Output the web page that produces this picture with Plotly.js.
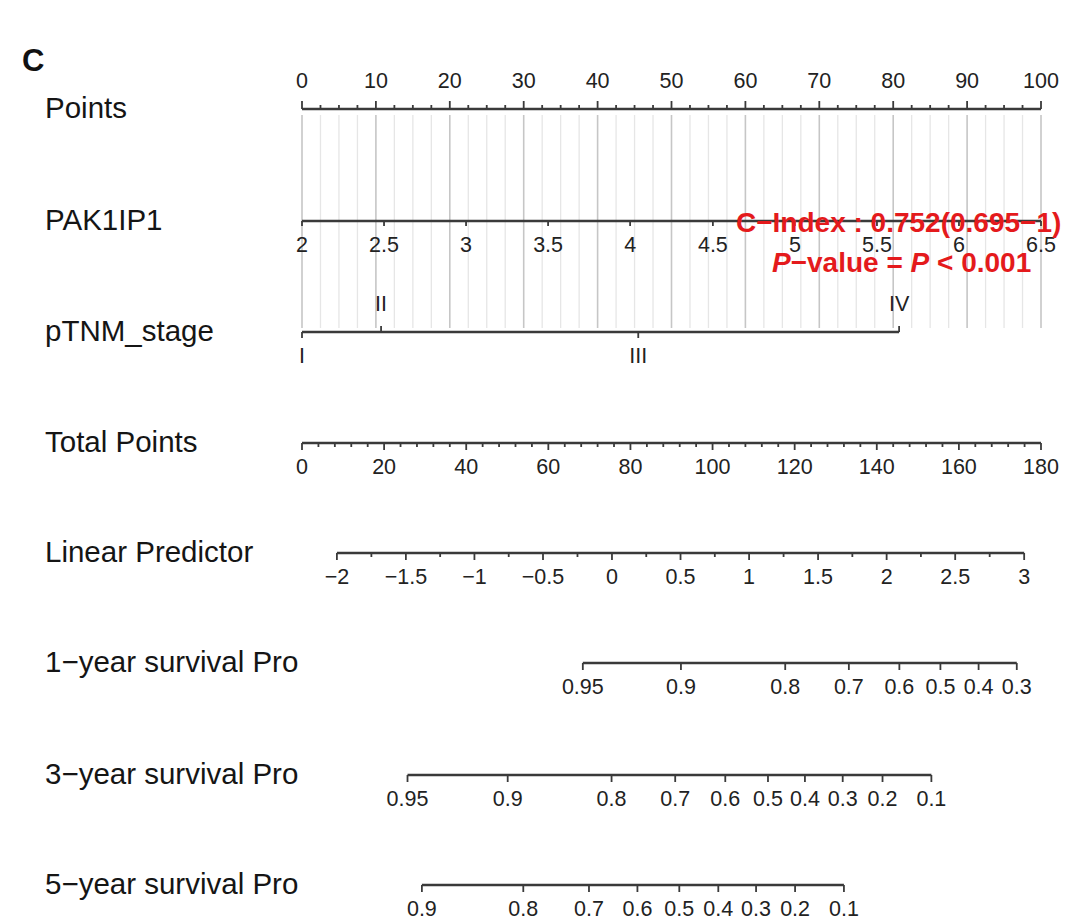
<!DOCTYPE html>
<html><head><meta charset="utf-8">
<script src="https://cdn.plot.ly/plotly-3.0.1.min.js"></script>
<style>html,body{margin:0;padding:0;background:#fff;}</style>
</head><body><div id="chart" style="width:1071px;height:922px;"></div>
<script>
// ---------------- data ----------------
const panelLetter = "C";
const rowNames = ["Points", "PAK1IP1", "pTNM_stage", "Total Points", "Linear Predictor",
  "1\u2212year survival Pro", "3\u2212year survival Pro", "5\u2212year survival Pro"];

const pointsTicks = [0, 10, 20, 30, 40, 50, 60, 70, 80, 90, 100];

const pak1ip1Labels = ["2", "2.5", "3", "3.5", "4", "4.5", "5", "5.5", "6", "6.5"];
const pak1ip1Points = [0, 11.1, 22.2, 33.3, 44.4, 55.6, 66.7, 77.8, 88.9, 100];

const stageLabels = ["I", "II", "III", "IV"];
const stagePoints = [0, 10.7, 45.5, 80.8];
const stageAbove = [false, true, false, true];

const totalTicks = [0, 20, 40, 60, 80, 100, 120, 140, 160, 180];

const lpLabels = ["\u22122", "\u22121.5", "\u22121", "\u22120.5", "0", "0.5", "1", "1.5", "2", "2.5", "3"];
const lpTotal = [8.5, 25.3, 42.0, 58.7, 75.5, 92.2, 108.9, 125.7, 142.4, 159.1, 175.9];

const surv1Labels = ["0.95", "0.9", "0.8", "0.7", "0.6", "0.5", "0.4", "0.3"];
const surv1Total = [68.4, 92.3, 117.7, 133.2, 145.5, 155.5, 164.8, 174.1];

const surv3Labels = ["0.95", "0.9", "0.8", "0.7", "0.6", "0.5", "0.4", "0.3", "0.2", "0.1"];
const surv3Total = [25.7, 50.1, 75.4, 90.9, 103.1, 113.5, 122.5, 131.7, 141.4, 153.3];

const surv5Labels = ["0.9", "0.8", "0.7", "0.6", "0.5", "0.4", "0.3", "0.2", "0.1"];
const surv5Total = [29.2, 53.9, 69.9, 81.7, 91.9, 101.4, 110.6, 120.1, 132.0];

const cIndexText = "C\u2212Index : 0.752(0.695\u22121)";
const pValueText = "<i>P</i>\u2212value = <i>P</i> < 0.001";

// ---------------- layout constants ----------------
const W = 1071, H = 922;
const PX0 = 302, PX100 = 1041;          // pixel of 0 and 100 points
const SCALE = (PX100 - PX0) / 100;      // px per point
const MAX_POINTS = 100, MAX_TOTAL = 180;
const rowY = [109, 221, 332, 443, 553, 663, 775, 885];
const FONT = "Liberation Sans, Arial, Helvetica, sans-serif";
const AXIS_COL = "#3a3a3a";
const TXT_COL = "#222222";
const LAB_SIZE = 21.5, ROW_SIZE = 29.5;

const tp2p = v => v * MAX_POINTS / MAX_TOTAL;   // total points -> points scale

const traces = [];

// grid lines (every 2.5 points, darker every 10)
(function () {
  const gx1 = [], gy1 = [], gx2 = [], gy2 = [];
  for (let i = 0; i < pointsTicks.length - 1; i++) {
    const a = pointsTicks[i], b = pointsTicks[i + 1];
    for (let k = 1; k < 4; k++) {
      const x = a + (b - a) * k / 4;
      gx1.push(x, x, null); gy1.push(rowY[0] + 6, rowY[2] - 4, null);
    }
  }
  pointsTicks.forEach(x => { gx2.push(x, x, null); gy2.push(rowY[0] + 6, rowY[2] - 4, null); });
  traces.push({x: gx1, y: gy1, mode: "lines", line: {color: "#e6e6e6", width: 1.3}, hoverinfo: "skip"});
  traces.push({x: gx2, y: gy2, mode: "lines", line: {color: "#c6c6c6", width: 1.6}, hoverinfo: "skip"});
})();

// generic axis drawer
function drawAxis(y, positions, labels, opts) {
  const lx = [positions[0], positions[positions.length - 1]];
  traces.push({x: lx, y: [y, y], mode: "lines", line: {color: AXIS_COL, width: 2.4}, hoverinfo: "skip"});
  const tx = [], ty = [];
  positions.forEach((p, i) => {
    const dir = opts.dirs ? opts.dirs[i] : opts.dir;
    tx.push(p, p, null); ty.push(y, y + dir * opts.len, null);
  });
  (opts.minor || []).forEach(p => {
    tx.push(p, p, null); ty.push(y, y + opts.dir * opts.minorLen, null);
  });
  traces.push({x: tx, y: ty, mode: "lines", line: {color: AXIS_COL, width: 1.8}, hoverinfo: "skip"});
  const labY = positions.map((p, i) => {
    const dir = opts.dirs ? opts.dirs[i] : opts.dir;
    return y + dir * opts.labOff;
  });
  traces.push({x: positions, y: labY, mode: "text", text: labels, textposition: "middle center",
    textfont: {family: FONT, size: opts.size || LAB_SIZE, color: TXT_COL}, hoverinfo: "skip", cliponaxis: false});
}

function subdivide(major, n) {
  const out = [];
  for (let i = 0; i < major.length - 1; i++) {
    for (let k = 1; k < n; k++) out.push(major[i] + (major[i + 1] - major[i]) * k / n);
  }
  return out;
}

// Points
drawAxis(rowY[0], pointsTicks, pointsTicks.map(String),
  {dir: -1, len: 8, labOff: 26, minor: subdivide(pointsTicks, 4), minorLen: 4});
// PAK1IP1
drawAxis(rowY[1], pak1ip1Points, pak1ip1Labels, {dir: 1, len: 5, labOff: 26});
// pTNM stage
drawAxis(rowY[2], stagePoints, stageLabels,
  {dirs: stageAbove.map(a => a ? -1 : 1), dir: 1, len: 6, labOff: 26});
// Total points
const totP = totalTicks.map(tp2p);
drawAxis(rowY[3], totP, totalTicks.map(String),
  {dir: 1, len: 7, labOff: 26, minor: subdivide(totP, 5), minorLen: 4});
// Linear predictor
const lpP = lpTotal.map(tp2p);
drawAxis(rowY[4], lpP, lpLabels, {dir: 1, len: 7, labOff: 26, minor: subdivide(lpP, 2), minorLen: 4});
// survival rows
drawAxis(rowY[5], surv1Total.map(tp2p), surv1Labels, {dir: 1, len: 7, labOff: 26});
drawAxis(rowY[6], surv3Total.map(tp2p), surv3Labels, {dir: 1, len: 7, labOff: 26});
drawAxis(rowY[7], surv5Total.map(tp2p), surv5Labels, {dir: 1, len: 7, labOff: 26});

// annotations
const annotations = rowNames.map((t, i) => ({
  text: t, xref: "paper", yref: "y", x: 43 / W, y: rowY[i] - 2, xanchor: "left", yanchor: "middle",
  showarrow: false, font: {family: FONT, size: ROW_SIZE, color: "#151515"}
}));
annotations.push({text: "<b>" + panelLetter + "</b>", xref: "paper", yref: "y", x: 33 / W, y: 60,
  xanchor: "center", yanchor: "middle", showarrow: false, font: {family: FONT, size: 31, color: "#111"}});
annotations.push({text: "<b>" + cIndexText + "</b>", xref: "paper", yref: "y", x: 898 / W, y: 222,
  xanchor: "center", yanchor: "middle", showarrow: false, font: {family: FONT, size: 28, color: "#e41a1c"}});
annotations.push({text: "<b>" + pValueText + "</b>", xref: "paper", yref: "y", x: 901 / W, y: 262,
  xanchor: "center", yanchor: "middle", showarrow: false, font: {family: FONT, size: 28, color: "#e41a1c"}});

const layout = {
  width: W, height: H,
  margin: {l: 0, r: 0, t: 0, b: 0, pad: 0},
  paper_bgcolor: "#ffffff", plot_bgcolor: "#ffffff",
  showlegend: false,
  xaxis: {range: [-PX0 / SCALE, (W - PX0) / SCALE], visible: false, fixedrange: true},
  yaxis: {range: [H, 0], visible: false, fixedrange: true},
  annotations: annotations
};

Plotly.newPlot("chart", traces, layout, {staticPlot: true, displayModeBar: false});
</script>
</body></html>
